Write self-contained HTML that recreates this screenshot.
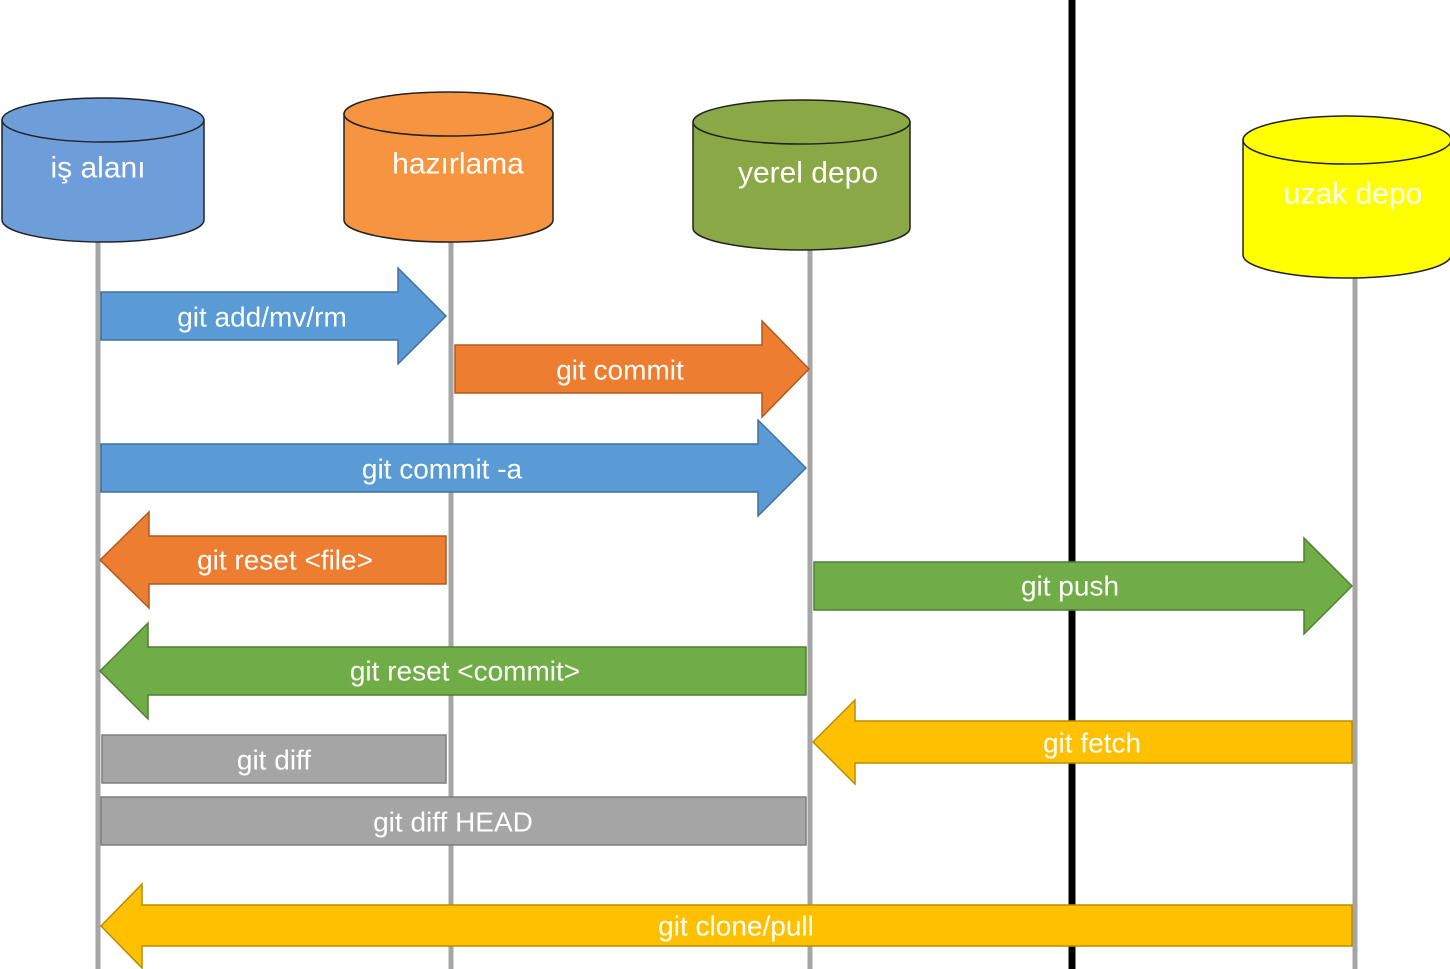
<!DOCTYPE html>
<html><head><meta charset="utf-8"><style>
html,body{margin:0;padding:0;background:#fff;}
svg{display:block}
text{font-family:"Liberation Sans",sans-serif;fill:#fff;text-anchor:middle;dominant-baseline:central;}
</style></head><body>
<svg width="1450" height="969" viewBox="0 0 1450 969" xmlns="http://www.w3.org/2000/svg">
<!-- vertical lines -->
<g stroke="#a6a6a6" stroke-width="5">
<line x1="98" y1="242" x2="98" y2="969"/>
<line x1="451" y1="242" x2="451" y2="969"/>
<line x1="810" y1="250" x2="810" y2="969"/>
<line x1="1355" y1="278" x2="1355" y2="969"/>
</g>
<line x1="1072" y1="0" x2="1072" y2="969" stroke="#000" stroke-width="7"/>

<!-- cylinders -->
<g stroke="#222" stroke-width="1.5">
<path d="M2,120 L2,220 A101,22 0 0 0 204,220 L204,120 Z" fill="#6d9eda"/>
<ellipse cx="103" cy="120" rx="101" ry="22" fill="#6d9eda"/>
<path d="M344,114 L344,220 A104.5,22 0 0 0 553,220 L553,114 Z" fill="#f79440"/>
<ellipse cx="448.5" cy="114" rx="104.5" ry="22" fill="#f79440"/>
<path d="M693,122 L693,228 A108.5,22 0 0 0 910,228 L910,122 Z" fill="#8aa946"/>
<ellipse cx="801.5" cy="122" rx="108.5" ry="22" fill="#8aa946"/>
<path d="M1243,140 L1243,255 A104,23 0 0 0 1451,255 L1451,140 Z" fill="#ffff00"/>
<ellipse cx="1347" cy="140" rx="104" ry="24" fill="#ffff00"/>
</g>
<g font-size="30">
<text x="98" y="168">iş alanı</text>
<text x="458" y="164">hazırlama</text>
<text x="808" y="173">yerel depo</text>
<text x="1353" y="194">uzak depo</text>
</g>

<!-- arrows -->
<g stroke-width="1.5" font-size="28">
<polygon points="101,292 398,292 398,268 446,316 398,364 398,340 101,340" fill="#5b9bd5" stroke="#41719c"/>
<text x="262" y="317">git add/mv/rm</text>
<polygon points="455,345 762,345 762,321 809,369 762,417 762,393 455,393" fill="#ed7d31" stroke="#ae5a21"/>
<text x="620" y="370">git commit</text>
<polygon points="101,444 758,444 758,420 806,468 758,516 758,492 101,492" fill="#5b9bd5" stroke="#41719c"/>
<text x="442" y="469">git commit -a</text>
<polygon points="100,560 149,512 149,536 446,536 446,584 149,584 149,608" fill="#ed7d31" stroke="#ae5a21"/>
<text x="285" y="560">git reset &lt;file&gt;</text>
<polygon points="814,562 1304,562 1304,538 1352,586 1304,634 1304,610 814,610" fill="#70ad47" stroke="#507e32"/>
<text x="1070" y="586">git push</text>
<polygon points="100,671 148,623 148,647 806,647 806,695 148,695 148,719" fill="#70ad47" stroke="#507e32"/>
<text x="465" y="671">git reset &lt;commit&gt;</text>
<polygon points="813,742 855,700 855,721 1352,721 1352,763 855,763 855,784" fill="#ffc000" stroke="#bc8c00"/>
<text x="1092" y="743">git fetch</text>
<rect x="102" y="735" width="344" height="48" fill="#a5a5a5" stroke="#7f7f7f"/>
<text x="274" y="760">git diff</text>
<rect x="101" y="797" width="705" height="48" fill="#a5a5a5" stroke="#7f7f7f"/>
<text x="453" y="822">git diff HEAD</text>
<polygon points="101,926 142,884 142,905 1352,905 1352,946 142,946 142,968" fill="#ffc000" stroke="#bc8c00"/>
<text x="736" y="926">git clone/pull</text>
</g>
</svg>
</body></html>
